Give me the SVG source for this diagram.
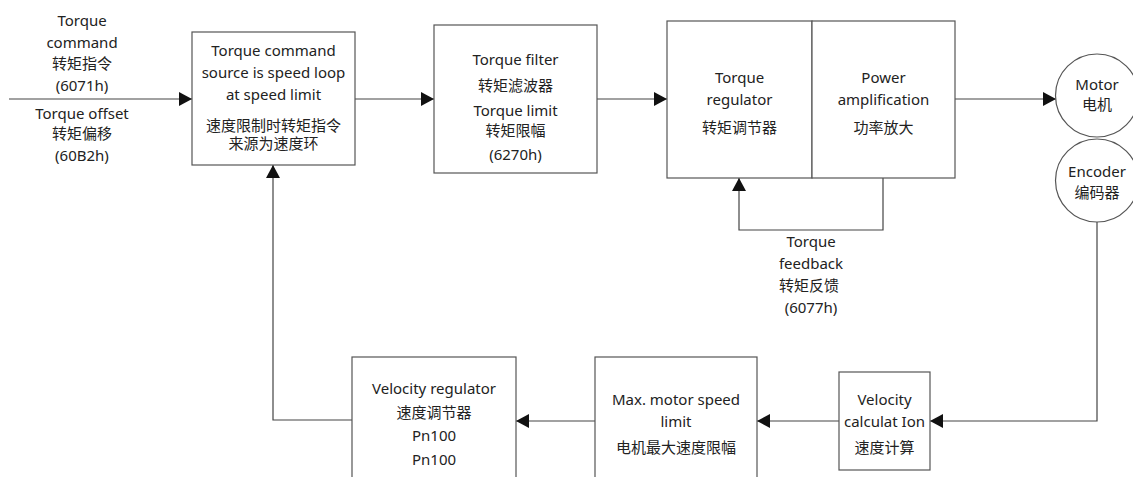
<svg xmlns="http://www.w3.org/2000/svg" width="1133" height="477" viewBox="0 0 1133 477">
<style>
.box{fill:#fff;stroke:#555;stroke-width:1.2}
.ln{fill:none;stroke:#444;stroke-width:1.2}
text{font-family:"Noto Sans","Noto Sans CJK SC",sans-serif;font-size:15px;fill:#222;text-anchor:middle;dominant-baseline:central}
</style>
<defs>
<marker id="ah" markerWidth="13" markerHeight="14" refX="13" refY="7" orient="auto" markerUnits="userSpaceOnUse">
<path d="M0,0 L13,7 L0,14 Z" fill="#111"/>
</marker>
</defs>
<rect width="1133" height="477" fill="#fff"/>
<g id="connectors">
<line class="ln" x1="9" y1="99" x2="192" y2="99" marker-end="url(#ah)"/>
<line class="ln" x1="355" y1="99" x2="434" y2="99" marker-end="url(#ah)"/>
<line class="ln" x1="597" y1="99" x2="667" y2="99" marker-end="url(#ah)"/>
<line class="ln" x1="955" y1="99" x2="1056" y2="99" marker-end="url(#ah)"/>
<polyline class="ln" points="883,178 883,230 739,230 739,178" marker-end="url(#ah)"/>
<polyline class="ln" points="1097,222 1097,421 930,421" marker-end="url(#ah)"/>
<line class="ln" x1="839" y1="421" x2="757" y2="421" marker-end="url(#ah)"/>
<line class="ln" x1="595" y1="421" x2="516" y2="421" marker-end="url(#ah)"/>
<polyline class="ln" points="352,420 273,420 273,165" marker-end="url(#ah)"/>
</g>
<g id="input-labels">
<text x="82" y="20">Torque</text>
<text x="82" y="42">command</text>
<text x="82" y="63">转矩指令</text>
<text x="82" y="85">(6071h)</text>
<text x="82" y="113">Torque offset</text>
<text x="82" y="133">转矩偏移</text>
<text x="82" y="155">(60B2h)</text>
</g>
<g id="node-source">
<rect class="box" x="192" y="32" width="163" height="133"/>
<text x="273.5" y="50">Torque command</text>
<text x="273.5" y="72">source is speed loop</text>
<text x="273.5" y="94">at speed limit</text>
<text x="273.5" y="125">速度限制时转矩指令</text>
<text x="273.5" y="143">来源为速度环</text>
</g>
<g id="node-filter">
<rect class="box" x="434" y="25" width="163" height="148"/>
<text x="515.5" y="59">Torque filter</text>
<text x="515.5" y="85">转矩滤波器</text>
<text x="515.5" y="110">Torque limit</text>
<text x="515.5" y="130">转矩限幅</text>
<text x="515.5" y="154">(6270h)</text>
</g>
<g id="node-regulator">
<rect class="box" x="667" y="21" width="145" height="157"/>
<text x="739.5" y="77">Torque</text>
<text x="739.5" y="99">regulator</text>
<text x="739.5" y="127">转矩调节器</text>
</g>
<g id="node-amplification">
<rect class="box" x="812" y="21" width="143" height="157"/>
<text x="883.5" y="77">Power</text>
<text x="883.5" y="99">amplification</text>
<text x="883.5" y="127">功率放大</text>
</g>
<g id="feedback-label">
<text x="811" y="241">Torque</text>
<text x="811" y="263">feedback</text>
<text x="809" y="285">转矩反馈</text>
<text x="811" y="307">(6077h)</text>
</g>
<g id="node-motor">
<circle class="box" cx="1097" cy="95.5" r="41.5"/>
<text x="1097" y="84">Motor</text>
<text x="1097" y="104">电机</text>
</g>
<g id="node-encoder">
<circle class="box" cx="1097" cy="180.5" r="41.5"/>
<text x="1097" y="171">Encoder</text>
<text x="1097" y="192">编码器</text>
</g>
<g id="node-velocity-calc">
<rect class="box" x="839" y="372" width="91" height="98"/>
<text x="884.5" y="399">Velocity</text>
<text x="884.5" y="421">calculat Ion</text>
<text x="884.5" y="447">速度计算</text>
</g>
<g id="node-max-speed">
<rect class="box" x="595" y="357" width="162" height="130"/>
<text x="676" y="399">Max. motor speed</text>
<text x="676" y="421">limit</text>
<text x="676" y="447">电机最大速度限幅</text>
</g>
<g id="node-velocity-regulator">
<rect class="box" x="352" y="357" width="164" height="130"/>
<text x="434" y="388">Velocity regulator</text>
<text x="434" y="412">速度调节器</text>
<text x="434" y="435">Pn100</text>
<text x="434" y="459">Pn100</text>
</g>
</svg>
